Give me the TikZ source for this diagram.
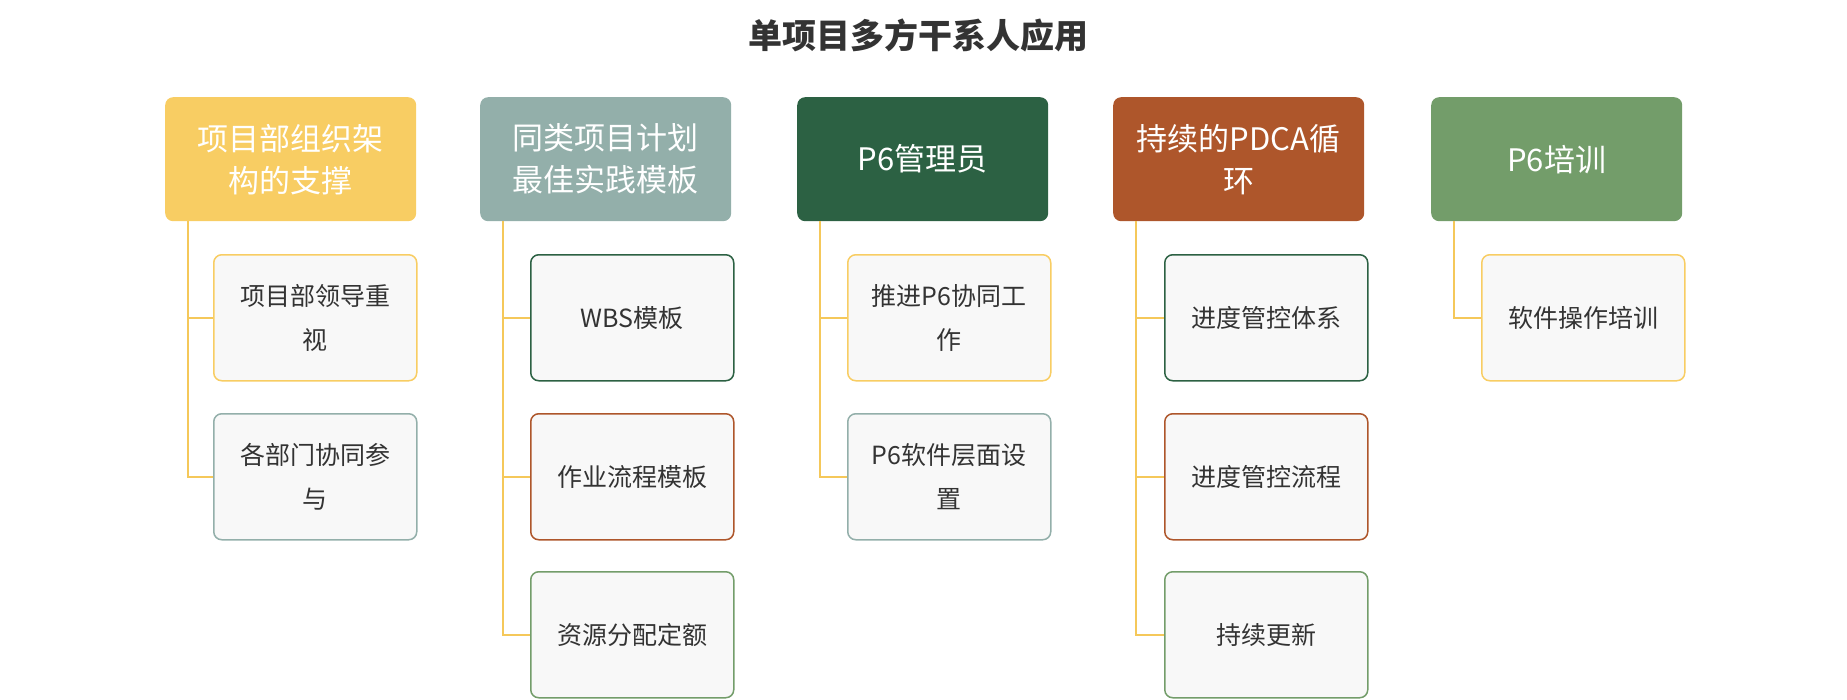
\documentclass[tikz,border=0pt]{standalone}
\usepackage{fontspec}
\setmainfont{Noto Sans CJK SC}
\definecolor{cY}{HTML}{F8CD63}
\definecolor{cT}{HTML}{93AFAA}
\definecolor{cD}{HTML}{2C6143}
\definecolor{cR}{HTML}{AE562B}
\definecolor{cG}{HTML}{739D6A}
\definecolor{ln}{HTML}{F5C85A}
\definecolor{tx}{HTML}{333333}
\begin{document}
\begin{tikzpicture}[x=1pt,y=-1pt,
 hd/.style={draw=none,fill=#1,rounded corners=8pt,minimum width=251pt,minimum height=124pt,text=white,font=\fontsize{31}{42}\selectfont,align=center,anchor=north west,inner sep=0pt},
 ch/.style={draw=#1,line width=1.5pt,fill={rgb,255:red,248;green,248;blue,248},rounded corners=8pt,minimum width=203pt,minimum height=126pt,text=tx,font=\fontsize{25}{44}\selectfont,align=center,anchor=north west,inner sep=0pt},
 tr/.style={draw=ln,line width=1.5pt}]
\useasboundingbox (0,0) rectangle (1847,699);
\node[font=\bfseries\fontsize{34}{40}\selectfont,text={rgb,255:red,51;green,51;blue,51}] (t) at (918,35) {单项目多方干系人应用};
% headers
\node[hd=cY] (h1) at (165,97) {项目部组织架\\构的支撑};
\node[hd=cT] (h2) at (480,97) {同类项目计划\\最佳实践模板};
\node[hd=cD] (h3) at (797,97) {P6管理员};
\node[hd=cR] (h4) at (1113,97) {持续的PDCA循\\环};
\node[hd=cG] (h5) at (1431,97) {P6培训};
% children
\node[ch=cY] (a1) at (213,254) {项目部领导重\\视};
\node[ch=cT] (a2) at (213,413) {各部门协同参\\与};
\node[ch=cD] (b1) at (530,254) {WBS模板};
\node[ch=cR] (b2) at (530,413) {作业流程模板};
\node[ch=cG] (b3) at (530,571) {资源分配定额};
\node[ch=cY] (c1) at (847,254) {推进P6协同工\\作};
\node[ch=cT] (c2) at (847,413) {P6软件层面设\\置};
\node[ch=cD] (d1) at (1164,254) {进度管控体系};
\node[ch=cR] (d2) at (1164,413) {进度管控流程};
\node[ch=cG] (d3) at (1164,571) {持续更新};
\node[ch=cY] (e1) at (1481,254) {软件操作培训};
% connectors
\foreach \h/\cs in {h1/{a1,a2},h2/{b1,b2,b3},h3/{c1,c2},h4/{d1,d2,d3},h5/{e1}}{
  \foreach \c in \cs {
    \draw[tr] ([xshift=23pt]\h.south west) |- (\c.west);
  }
}
\end{tikzpicture}
\end{document}
